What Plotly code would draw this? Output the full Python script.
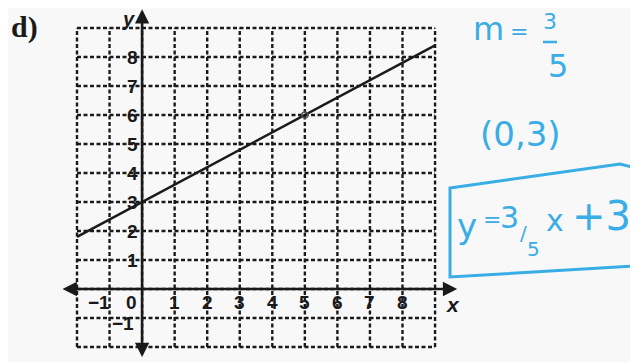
import plotly.graph_objects as go

# ---- data ----
grid_vals = list(range(-2, 10))          # dashed grid lines at x and y = -2..9
x_tick_labels = ["\u22121", "0", "1", "2", "3", "4", "5", "6", "7", "8"]
x_tick_vals = [-1, 0, 1, 2, 3, 4, 5, 6, 7, 8]
y_tick_labels = ["\u22121", "1", "2", "3", "4", "5", "6", "7", "8"]
y_tick_vals = [-1, 1, 2, 3, 4, 5, 6, 7, 8]
line_x = [-2, 9]
line_y = [1.8, 8.4]
point_x = [5]
point_y = [6]

BLUE = "#38ade6"
INK = "#1a1a1a"
BG = "#f8f8f8"

# page has an 8px body margin: size the figure so it fits the window
OFF = 8
W, H = 638 - OFF, 362 - OFF


def px(p):
    return (p - OFF) / W


def py(p):
    return 1 - (p - OFF) / H


fig = go.Figure()

# dashed grid
gx, gy = [], []
for v in grid_vals:
    gx += [v, v, None]
    gy += [grid_vals[0], grid_vals[-1], None]
for v in grid_vals:
    gx += [grid_vals[0], grid_vals[-1], None]
    gy += [v, v, None]
fig.add_trace(go.Scatter(x=gx, y=gy, mode="lines",
                         line=dict(color=INK, width=2.4, dash="4px,2.5px"),
                         hoverinfo="skip", showlegend=False))

# the line
fig.add_trace(go.Scatter(x=line_x, y=line_y, mode="lines",
                         line=dict(color=INK, width=2.5),
                         showlegend=False))
fig.add_trace(go.Scatter(x=point_x, y=point_y, mode="markers",
                         marker=dict(size=6, color="rgba(0,0,0,0)",
                                     line=dict(color="#555", width=1.5)),
                         showlegend=False))

ann = []
# axes with arrows
ann.append(dict(x=9.68, y=0, ax=-2.49, ay=0, xref="x", yref="y", axref="x", ayref="y",
                text="", showarrow=True, arrowhead=2, arrowsize=1.1, arrowwidth=2.6,
                arrowcolor=INK, arrowside="end+start"))
ann.append(dict(x=0, y=9.65, ax=0, ay=-2.4, xref="x", yref="y", axref="x", ayref="y",
                text="", showarrow=True, arrowhead=2, arrowsize=1.1, arrowwidth=2.6,
                arrowcolor=INK, arrowside="end+start"))

tick_font = dict(family="Liberation Sans, Arial", size=19, color=INK, weight="bold")
for lab, v in zip(x_tick_labels, x_tick_vals):
    dx = -0.32 if v <= 0 else 0
    ann.append(dict(x=v + dx, y=-0.48, xref="x", yref="y", text=lab, showarrow=False,
                    font=tick_font, borderpad=0))
for lab, v in zip(y_tick_labels, y_tick_vals):
    dx = -0.58 if v < 0 else -0.3
    ann.append(dict(x=dx, y=v - (0.2 if v < 0 else 0), xref="x", yref="y", text=lab,
                    showarrow=False, font=tick_font, borderpad=0))
ann.append(dict(x=-0.42, y=9.3, xref="x", yref="y", text="<i>y</i>", showarrow=False,
                font=dict(family="Liberation Sans, Arial", size=20, color=INK, weight="bold"),
                borderpad=0))
ann.append(dict(x=9.55, y=-0.55, xref="x", yref="y", text="<i>x</i>", showarrow=False,
                font=dict(family="Liberation Sans, Arial", size=21, color=INK, weight="bold")))

# "d)" label
ann.append(dict(x=px(24), y=py(27), xref="paper", yref="paper", text="<b>d)</b>",
                showarrow=False, xanchor="center", yanchor="middle",
                font=dict(family="Liberation Serif, Times New Roman", size=30, color=INK)))

# handwritten notes (blue)
hw = dict(family="DejaVu Sans, Noto Sans", color=BLUE)
notes = [
    ("m", 489, 29, 32), ("=", 519, 31, 22), ("3", 550, 22, 22), ("5", 558, 66, 32),
    ("(0,3)", 520, 134, 34),
    ("y", 467, 226, 34), ("=", 492, 219, 22), ("3", 510, 217, 30), ("/", 523, 233, 20),
    ("5", 533, 249, 20), ("x", 555, 221, 30), ("+3", 601, 216, 40),
]
for t, x0, y0, s in notes:
    ann.append(dict(x=px(x0), y=py(y0), xref="paper", yref="paper", text=t,
                    showarrow=False, xanchor="center", yanchor="middle",
                    font=dict(size=s, **hw), borderpad=0))

fig.update_layout(annotations=ann)

shapes = [
    # fraction bar for m = 3/5
    dict(type="line", xref="paper", yref="paper", x0=px(543), x1=px(557),
         y0=py(42), y1=py(42), line=dict(color=BLUE, width=2.5)),
    # box around the equation
    dict(type="path", xref="paper", yref="paper",
         path=f"M {px(450)},{py(188)} L {px(620)},{py(164)} L {px(636)},{py(168)} "
              f"L {px(636)},{py(266)} L {px(450)},{py(277)} Z",
         line=dict(color=BLUE, width=3), fillcolor="rgba(0,0,0,0)"),
]
fig.update_layout(shapes=shapes)

# data -> pixel mapping: x=0 at 142px, 32.55 px/unit; y=0 at 289px, 29 px/unit
xs, x0p = 32.55, 142.1 - OFF
ys, y0p = 29.0, 289.0 - OFF
fig.update_xaxes(range=[-x0p / xs, (W - x0p) / xs], visible=False, showgrid=False,
                 zeroline=False)
fig.update_yaxes(range=[(y0p - H) / ys, y0p / ys], visible=False, showgrid=False,
                 zeroline=False)
fig.update_layout(width=W, height=H, margin=dict(l=0, r=0, t=0, b=0),
                  plot_bgcolor=BG, paper_bgcolor=BG, showlegend=False)

fig.write_html("out.html")
